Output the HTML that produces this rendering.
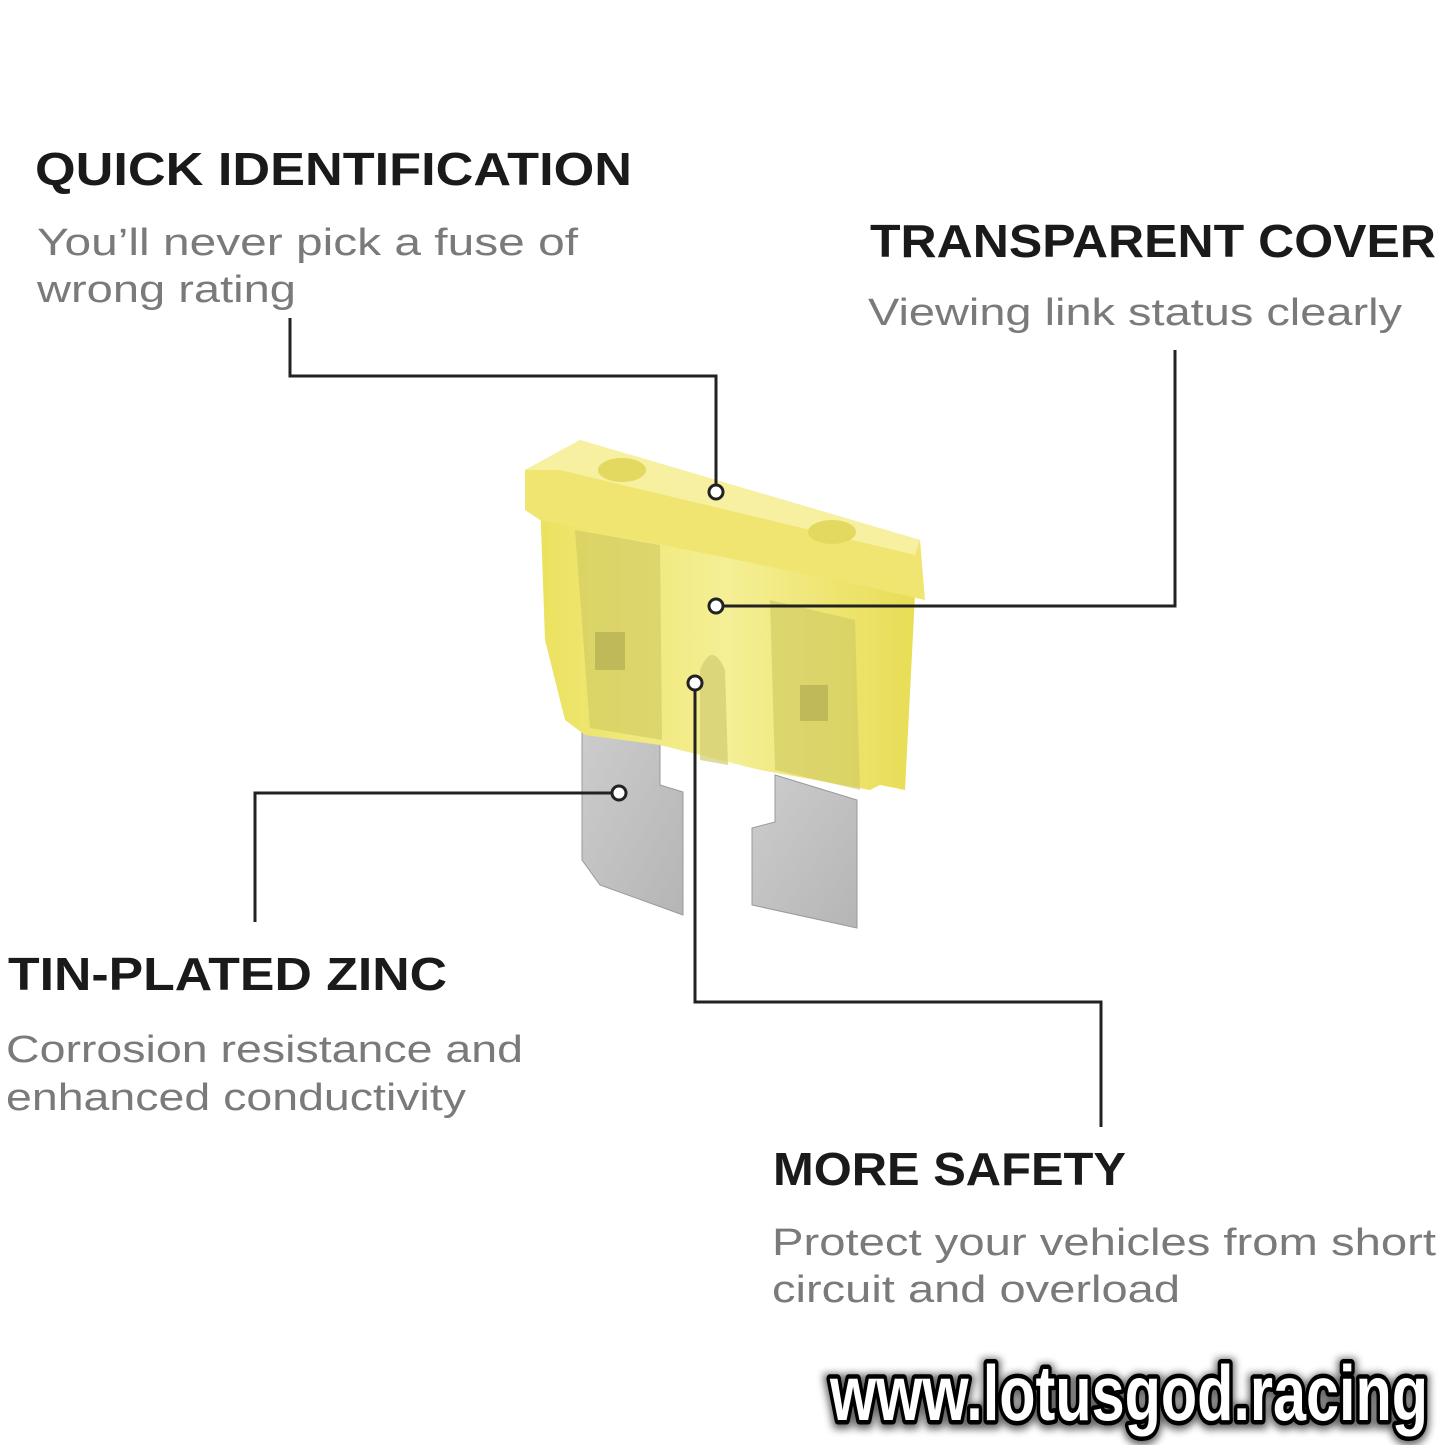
<!DOCTYPE html>
<html><head><style>html,body{margin:0;padding:0;background:#fff}svg{display:block}</style></head>
<body>
<svg width="1445" height="1445" viewBox="0 0 1445 1445" xmlns="http://www.w3.org/2000/svg">
<defs>
<linearGradient id="yb" x1="0" y1="0" x2="1" y2="0">
<stop offset="0" stop-color="#ebe260"/><stop offset="0.5" stop-color="#f5ef96"/><stop offset="1" stop-color="#e8dd55"/>
</linearGradient>
<linearGradient id="mt" x1="0" y1="0" x2="1" y2="1">
<stop offset="0" stop-color="#cdcdcd"/><stop offset="1" stop-color="#b5b5b5"/>
</linearGradient>
<filter id="sh" x="-5%" y="-20%" width="110%" height="140%"><feGaussianBlur stdDeviation="4"/></filter>
</defs>
<g font-family="Liberation Sans, Arial, sans-serif">
<text x="35" y="185" font-size="46" font-weight="bold" fill="#1a1a1a" textLength="597" lengthAdjust="spacingAndGlyphs">QUICK IDENTIFICATION</text>
<text x="37" y="255" font-size="38" fill="#7a7a7a" textLength="541" lengthAdjust="spacingAndGlyphs">You’ll never pick a fuse of</text>
<text x="37" y="302" font-size="38" fill="#7a7a7a" textLength="259" lengthAdjust="spacingAndGlyphs">wrong rating</text>
<text x="870" y="257" font-size="46" font-weight="bold" fill="#1a1a1a" textLength="566" lengthAdjust="spacingAndGlyphs">TRANSPARENT COVER</text>
<text x="868" y="325" font-size="38" fill="#7a7a7a" textLength="534" lengthAdjust="spacingAndGlyphs">Viewing link status clearly</text>
<text x="8" y="990" font-size="46" font-weight="bold" fill="#1a1a1a" textLength="439" lengthAdjust="spacingAndGlyphs">TIN-PLATED ZINC</text>
<text x="6" y="1062" font-size="38" fill="#7a7a7a" textLength="517" lengthAdjust="spacingAndGlyphs">Corrosion resistance and</text>
<text x="6" y="1110" font-size="38" fill="#7a7a7a" textLength="460" lengthAdjust="spacingAndGlyphs">enhanced conductivity</text>
<text x="773" y="1185" font-size="46" font-weight="bold" fill="#1a1a1a" textLength="353" lengthAdjust="spacingAndGlyphs">MORE SAFETY</text>
<text x="772" y="1255" font-size="38" fill="#7a7a7a" textLength="664" lengthAdjust="spacingAndGlyphs">Protect your vehicles from short</text>
<text x="772" y="1302" font-size="38" fill="#7a7a7a" textLength="408" lengthAdjust="spacingAndGlyphs">circuit and overload</text>
</g>
<polygon points="582,722 660,722 660,785 683,792 683,915 600,885 582,860" fill="url(#mt)" stroke="#999" stroke-width="1"/>
<polygon points="775,775 857,800 857,928 752,905 752,828 775,822" fill="url(#mt)" stroke="#999" stroke-width="1"/>
<polygon points="540,500 915,595 905,790 880,785 870,790 760,770 700,755 660,745 585,735 565,720 545,640" fill="url(#yb)"/>
<polygon points="575,530 660,545 662,740 590,728" fill="#cfc860" opacity="0.6"/>
<polygon points="770,600 855,620 860,790 775,770" fill="#cfc860" opacity="0.6"/>
<path d="M700,760 L700,670 Q712,640 725,670 L728,765 Z" fill="#d0cc70" opacity="0.7"/>
<rect x="595" y="632" width="30" height="38" fill="#b8b255" opacity="0.8"/>
<rect x="800" y="685" width="28" height="36" fill="#b8b255" opacity="0.8"/>
<polygon points="525,470 580,440 920,540 925,600 860,585 540,520 525,510" fill="#efe570"/>
<polygon points="525,470 580,440 920,540 915,555 560,470" fill="#f6f0a0"/>
<ellipse cx="622" cy="470" rx="24" ry="12" fill="#e3d860"/>
<ellipse cx="832" cy="532" rx="24" ry="12" fill="#e3d860"/>
<g fill="none" stroke="#222" stroke-width="3">
<polyline points="290,318 290,376 716,376 716,485"/>
<polyline points="723,606 1175,606 1175,350"/>
<polyline points="612,793 255,793 255,922"/>
<polyline points="695,690 695,1002 1101,1002 1101,1127"/>
</g>
<g fill="#fff" stroke="#222" stroke-width="3">
<circle cx="716" cy="492" r="7"/>
<circle cx="716" cy="606" r="7"/>
<circle cx="619" cy="793" r="7"/>
<circle cx="695" cy="683" r="7"/>
</g>
<text x="830" y="1422" font-family="Liberation Sans Narrow, Liberation Sans, Arial, sans-serif" font-weight="bold" font-size="78" fill="#000" stroke="#000" stroke-width="14" filter="url(#sh)" textLength="598" lengthAdjust="spacingAndGlyphs" opacity="0.6">www.lotusgod.racing</text>
<text x="830" y="1420" font-family="Liberation Sans Narrow, Liberation Sans, Arial, sans-serif" font-weight="bold" font-size="78" fill="#fff" stroke="#000" stroke-width="9" paint-order="stroke" stroke-linejoin="round" textLength="598" lengthAdjust="spacingAndGlyphs">www.lotusgod.racing</text>
</svg>
</body></html>
